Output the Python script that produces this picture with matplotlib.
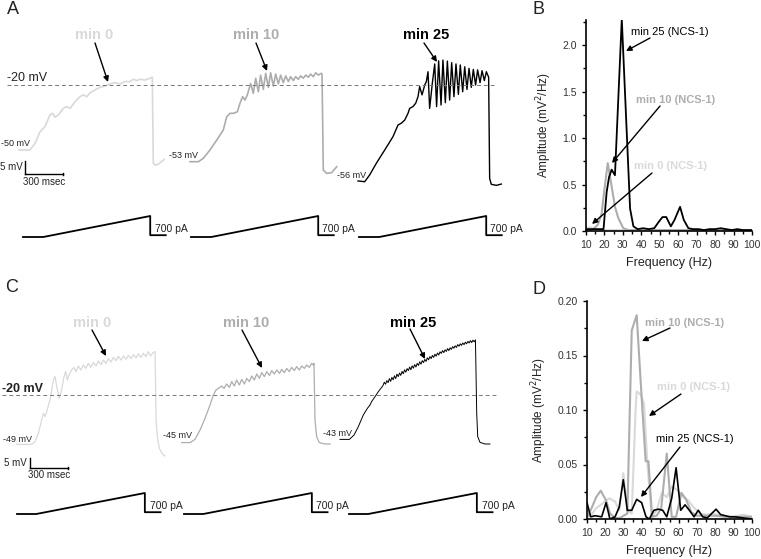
import matplotlib.pyplot as plt
import numpy as np
from matplotlib.ticker import MultipleLocator, FormatStrFormatter

plt.rcParams['font.family'] = ['Liberation Sans', 'DejaVu Sans']

W, H = 761, 559
LIGHT = '#d9d9d9'
MID = '#adadad'
DARK = '#000000'
MS_PER_PX = 7.9

# ---------------- voltage traces (ms from sweep start, mV) ----------------
# panel A
a_min0 = [(0, -45.0), (87, -45.0), (127, -42.4), (166, -38.0), (205, -36.0), (245, -31.5),
          (266, -30.9), (284, -32.4), (311, -31.5), (350, -29.0), (377, -28.3), (403, -29.0),
          (443, -26.4), (482, -24.5), (509, -23.8), (535, -24.5), (561, -23.0), (600, -21.9),
          (640, -20.9), (679, -20.4), (719, -19.6), (758, -19.1), (798, -19.6), (837, -18.7),
          (877, -18.7), (903, -17.8), (930, -18.3), (956, -17.8), (995, -18.1), (1035, -17.4),
          (1053, -17.0), (1061, -50.1), (1074, -50.8), (1100, -50.5), (1148, -48.6)]
a_min10 = [(0, -49.5), (66, -49.5), (105, -48.2), (158, -45.0), (211, -41.2), (263, -37.3),
           (290, -32.2), (316, -30.9), (342, -30.9), (374, -30.3), (395, -27.0), (416, -24.5),
           (434, -25.8), (453, -23.8), (479, -19.4), (500, -23.2), (519, -17.4), (540, -22.6),
           (558, -16.2), (579, -21.7), (598, -15.5), (619, -20.9), (637, -15.3), (658, -20.4),
           (677, -15.8), (698, -19.6), (716, -16.2), (737, -19.1), (756, -16.5), (777, -18.7),
           (795, -16.8), (816, -18.3), (835, -16.8), (856, -17.8), (874, -16.5), (895, -17.4),
           (914, -16.2), (935, -17.0), (953, -15.8), (974, -16.8), (993, -15.3), (1014, -16.2),
           (1035, -15.5), (1043, -15.8), (1053, -52.7), (1080, -54.0), (1119, -53.7), (1159, -51.4)]
a_min25 = [(0, -56.9), (53, -57.2), (92, -54.6), (145, -50.1), (211, -45.0), (276, -39.9),
           (316, -35.4), (342, -34.7), (369, -33.5), (395, -30.9), (408, -29.0), (434, -28.3),
           (456, -27.0), (474, -24.5), (487, -20.6), (506, -23.8), (527, -20.0), (540, -18.7),
           (553, -14.9), (566, -29.0), (587, -19.4), (606, -11.9), (621, -28.3), (637, -10.7),
           (656, -27.7), (671, -10.4), (690, -26.8), (706, -10.8), (724, -25.8), (740, -11.4),
           (758, -24.5), (774, -11.9), (793, -23.6), (808, -12.3), (827, -22.6), (843, -13.0),
           (861, -21.7), (877, -13.6), (895, -20.9), (911, -14.0), (929, -20.0), (945, -14.2),
           (964, -19.1), (980, -14.5), (998, -18.3), (1014, -14.9), (1032, -17.0), (1040, -55.9),
           (1053, -58.2), (1093, -58.6), (1132, -58.1)]

# panel C
c_min0 = [(0, -44.7), (118, -44.7), (145, -43.3), (171, -39.2), (197, -32.5), (211, -29.2),
          (224, -30.8), (237, -28.3), (263, -22.5), (290, -12.5), (303, -10.8), (316, -15.8),
          (337, -21.7), (355, -17.5), (374, -10.8), (387, -8.3), (400, -12.5), (413, -10.0),
          (434, -7.5), (453, -6.2), (469, -8.3), (487, -5.5), (506, -7.5), (527, -5.0),
          (545, -6.7), (566, -4.2), (585, -6.2), (606, -3.8), (627, -5.5), (645, -3.0),
          (666, -4.8), (685, -2.5), (706, -4.2), (724, -1.8), (745, -3.5), (764, -1.2),
          (785, -2.8), (803, -0.7), (824, -2.5), (843, -0.5), (864, -2.2), (882, -0.2),
          (903, -1.8), (922, 0.2), (943, -1.5), (961, 0.5), (982, -1.2), (1001, 0.8),
          (1022, -0.8), (1040, 1.7), (1058, -0.5), (1080, 1.3), (1093, 1.7), (1101, -32.5),
          (1111, -40.8), (1127, -46.7), (1151, -49.5), (1172, -50.5)]
c_min10 = [(0, -43.8), (66, -43.8), (105, -42.2), (145, -37.5), (184, -31.7), (224, -25.0),
           (250, -20.0), (271, -17.5), (290, -16.7), (316, -15.5), (334, -16.7), (355, -14.5),
           (377, -16.2), (395, -13.3), (416, -15.5), (434, -12.5), (456, -15.0), (474, -12.2),
           (495, -14.5), (514, -11.7), (535, -13.3), (553, -10.5), (574, -12.5), (593, -9.5),
           (614, -11.7), (632, -8.8), (653, -10.8), (672, -8.3), (693, -10.2), (711, -7.8),
           (732, -9.5), (751, -7.5), (772, -9.2), (790, -7.2), (811, -8.8), (829, -6.7),
           (850, -8.3), (869, -6.2), (890, -7.8), (908, -5.8), (929, -7.5), (948, -5.5),
           (969, -6.7), (987, -5.0), (1008, -6.2), (1027, -4.2), (1040, -5.0), (1045, -4.2),
           (1053, -32.5), (1066, -40.8), (1087, -43.8), (1132, -44.5), (1172, -44.5)]
c_min25 = [(0, -42.2), (74, -42.2), (111, -40.0), (145, -35.8), (184, -30.0), (216, -26.7),
           (237, -25.0), (250, -23.3), (277, -20.8), (303, -18.3), (329, -16.2),
           (340, -15.2), (350, -13.6), (360, -14.6), (370, -12.8), (380, -13.8), (390, -11.8),
           (400, -13.2), (410, -11.2), (420, -12.4), (430, -10.4), (440, -11.8), (450, -9.6),
           (460, -10.8), (470, -9.0), (480, -10.2), (490, -8.2), (500, -9.4), (510, -7.4),
           (520, -8.6), (530, -6.8), (540, -7.8), (550, -6.0), (560, -7.4), (570, -5.4),
           (580, -6.6), (590, -4.8), (600, -6.0), (610, -4.2), (620, -5.2), (630, -3.4),
           (640, -4.6), (650, -2.8), (660, -3.8), (670, -2.2), (680, -3.2), (690, -1.4),
           (700, -2.4), (710, -0.8), (720, -1.8), (730, -0.2), (740, -1.2), (750, 0.4),
           (760, -0.6), (770, 1.0), (780, 0.0), (790, 1.6), (800, 0.8), (810, 2.2),
           (820, 1.2), (830, 2.6), (840, 1.8), (850, 3.2), (860, 2.2), (870, 3.6),
           (880, 2.8), (890, 4.2), (900, 3.4), (910, 4.6), (920, 3.8), (930, 5.2),
           (940, 4.4), (950, 5.6), (960, 4.8), (970, 6.0), (980, 5.2), (990, 6.4),
           (1000, 5.6), (1010, 6.8), (1020, 6.0), (1030, 7.2), (1040, 6.2), (1050, 7.4),
           (1060, 6.6), (1070, 7.6), (1080, -29.2), (1088, -40.8), (1106, -43.7),
           (1146, -44.5), (1185, -44.5)]

# injected current ramps (ms, pA)
ramp_t_A = [0, 160, 1005, 1005, 1128]
ramp_t_C = [0, 152, 1010, 1010, 1134]
ramp_i = [0, 0, 700, 60, 60]

# ---------------- power spectra (Hz, mV^2/Hz) ----------------
b_f25 = [10, 12, 14, 16, 18, 19.5, 21.2, 22.5, 23.9, 25.7, 29.4, 33.9, 35.7, 38, 41, 44, 47,
         49.5, 51.5, 53.5, 56, 58, 61, 63, 65.5, 68, 71, 74, 77, 80, 83, 86, 89, 92, 95, 98, 100]
b_a25 = [0.02, 0.02, 0.02, 0.02, 0.02, 0.02, 0.42, 0.58, 0.66, 0.60, 2.28, 0.24, 0.05, 0.02,
         0.03, 0.02, 0.03, 0.10, 0.15, 0.15, 0.05, 0.12, 0.26, 0.12, 0.03, 0.02, 0.02, 0.01,
         0.02, 0.02, 0.03, 0.02, 0.01, 0.02, 0.01, 0.01, 0.01]
b_f10 = [10, 12, 14, 16.5, 18.5, 20, 21.8, 23.9, 25.7, 27.5, 30.2, 33, 36, 40, 50, 60, 70, 80, 90, 100]
b_a10 = [0.0, 0.01, 0.02, 0.07, 0.19, 0.45, 0.73, 0.48, 0.26, 0.14, 0.03, 0.01, 0.01, 0.01,
         0.01, 0.01, 0.01, 0.01, 0.01, 0.01]
b_f0 = [10, 12, 14, 16, 18, 20, 25, 30, 40, 50, 60, 70, 80, 90, 100]
b_a0 = [0.03, 0.04, 0.03, 0.02, 0.01, 0.01, 0.01, 0.01, 0.01, 0.01, 0.01, 0.01, 0.01, 0.01, 0.01]

d_f25 = [10, 12, 14.4, 18, 20.4, 22.5, 25.3, 27.6, 29.8, 32, 34.4, 37.1, 39.8, 42.2, 44, 46.5,
         48.9, 51.3, 53.5, 56.2, 58.6, 61.1, 63.5, 65.8, 68.4, 70.7, 73.1, 75.6, 80.4, 82.9,
         88, 90.7, 95, 100]
d_a25 = [0.015, 0.002, 0.003, 0.002, 0.015, 0.0, 0.002, 0.011, 0.036, 0.008, 0.008, 0.018,
         0.015, 0.002, 0.0, 0.008, 0.009, 0.008, 0.002, 0.019, 0.047, 0.008, 0.013, 0.008,
         0.002, 0.008, 0.002, 0.001, 0.009, 0.004, 0.002, 0.002, 0.001, 0.0]
d_f10 = [10, 12.5, 15, 17.5, 20.4, 22.6, 25.3, 28, 30, 32, 34.4, 37.1, 39.5, 42, 43.5, 45.5,
         48, 50.5, 53.5, 56.2, 58.6, 61.5, 64, 67, 70, 75, 80, 85, 90, 95, 100]
d_a10 = [0.001, 0.010, 0.020, 0.026, 0.017, 0.005, 0.001, 0.001, 0.003, 0.005, 0.173, 0.187,
         0.120, 0.053, 0.053, 0.002, 0.003, 0.010, 0.060, 0.002, 0.002, 0.024, 0.018, 0.006,
         0.003, 0.003, 0.003, 0.002, 0.002, 0.002, 0.002]
d_f0 = [10, 12.5, 15, 17.5, 20.4, 22.2, 25.3, 27.6, 29.8, 32, 34.4, 36.5, 37.1, 39.3, 41.1,
        42.9, 45.3, 48, 50.8, 53.5, 56.2, 58.9, 62.6, 65.3, 68, 71.7, 75.3, 79, 82.6, 86.3,
        89.9, 95.3, 100]
d_a0 = [0.002, 0.004, 0.010, 0.013, 0.017, 0.019, 0.016, 0.008, 0.042, 0.008, 0.005, 0.100,
        0.117, 0.114, 0.106, 0.052, 0.002, 0.008, 0.024, 0.020, 0.030, 0.027, 0.020, 0.017,
        0.011, 0.005, 0.004, 0.005, 0.003, 0.002, 0.002, 0.004, 0.002]

fig = plt.figure(figsize=(W / 100, H / 100), dpi=100)


def px_axes(x0, y0, x1, y1):
    return fig.add_axes([x0 / W, 1 - y1 / H, (x1 - x0) / W, (y1 - y0) / H])


def draw_row(box, y_ref, mv_px, traces, offsets_px, styles, ramp_box, base_px, ramp_t, ramp_offs):
    ax = px_axes(*box)
    x0, y0, x1, y1 = box
    ax.set_xlim(0, (x1 - x0) * MS_PER_PX)
    ax.set_ylim(-20 - (y1 - y_ref) / mv_px, -20 + (y_ref - y0) / mv_px)
    ax.axis('off')
    for tr, off, (c, lw) in zip(traces, offsets_px, styles):
        t, v = np.array(tr).T
        ax.plot(t + off * MS_PER_PX, v, color=c, lw=lw, solid_joinstyle='round')
    rx = px_axes(*ramp_box)
    rx.set_xlim(0, (x1 - x0) * MS_PER_PX)
    rx.set_ylim(-(ramp_box[3] - base_px) / 0.03, (base_px - ramp_box[1]) / 0.03)
    rx.axis('off')
    for off in ramp_offs:
        rx.plot(np.array(ramp_t) + off * MS_PER_PX, ramp_i, color='k', lw=1.3)
    return ax


# ---------- row A ----------
axA = draw_row((0, 0, 520, 200), 85, 2.6, [a_min0, a_min10, a_min25], [19, 190, 358],
               [(LIGHT, 1.2), (MID, 1.2), (DARK, 1.0)],
               (0, 200, 520, 250), 237, ramp_t_A, [23, 191, 359])
axA.axhline(-20, xmin=7 / 520, xmax=497 / 520, color='#777777', lw=0.7, ls=(0, (4, 3)))
# scale bars 5 mV / 300 ms
axA.plot([25 * MS_PER_PX] * 2, [-49.2, -54.2], color='k', lw=1)
axA.plot([25 * MS_PER_PX, 25 * MS_PER_PX + 300], [-54.2, -54.2], color='k', lw=1)
axA.plot([25 * MS_PER_PX + 300] * 2, [-53.7, -54.7], color='k', lw=1)

# ---------- row C ----------
axC = draw_row((0, 280, 520, 480), 395, 2.0, [c_min0, c_min10, c_min25], [16.7, 181.7, 340],
               [(LIGHT, 0.9), (MID, 0.9), (DARK, 0.7)],
               (0, 480, 520, 535), 514, ramp_t_C, [17, 184, 349])
axC.axhline(-20, xmin=2 / 520, xmax=498 / 520, color='#777777', lw=0.7, ls=(0, (4, 3)))
axC.plot([30 * MS_PER_PX] * 2, [-51.5, -56.5], color='k', lw=1)
axC.plot([30 * MS_PER_PX, 30 * MS_PER_PX + 300], [-56.5, -56.5], color='k', lw=1)
axC.plot([30 * MS_PER_PX + 300] * 2, [-56.0, -57.0], color='k', lw=1)


# ---------- spectra ----------
def spectrum_axes(box, ymax, major, minor, fmt, series):
    ax = px_axes(*box)
    for f, a, c, lw in series:
        ax.plot(f, a, color=c, lw=lw)
    ax.set_xlim(10, 100)
    ax.set_ylim(0, ymax)
    ax.xaxis.set_major_locator(MultipleLocator(10))
    ax.xaxis.set_minor_locator(MultipleLocator(5))
    ax.yaxis.set_major_locator(MultipleLocator(major))
    ax.yaxis.set_minor_locator(MultipleLocator(minor))
    ax.yaxis.set_major_formatter(FormatStrFormatter(fmt))
    for s in ('top', 'right'):
        ax.spines[s].set_visible(False)
    for s in ('left', 'bottom'):
        ax.spines[s].set_linewidth(1.2)
    ax.tick_params(which='major', length=3, width=1, labelsize=7.5, labelcolor='#333333', pad=3.5)
    ax.tick_params(which='minor', length=2, width=1)
    ax.set_xlabel('Frequency (Hz)', fontsize=9, color='#222222', labelpad=5)
    ax.set_ylabel('Amplitude (mV$^2$/Hz)', fontsize=8.5, color='#222222', labelpad=6)
    ax.patch.set_alpha(0)
    return ax


axB = spectrum_axes((586, 20, 752, 231), 2.27, 0.5, 0.25, '%.1f',
                    [(b_f0, b_a0, LIGHT, 1.5), (b_f10, b_a10, MID, 1.5), (b_f25, b_a25, DARK, 1.3)])
axD = spectrum_axes((587, 301, 752, 519), 0.2, 0.05, 0.025, '%.2f',
                    [(d_f0, d_a0, LIGHT, 1.5), (d_f10, d_a10, MID, 1.5), (d_f25, d_a25, DARK, 1.2)])

# ---------- overlay for labels and arrows (figure pixel coords) ----------
ov = fig.add_axes([0, 0, 1, 1], zorder=10)
ov.set_xlim(0, W)
ov.set_ylim(H, 0)
ov.axis('off')


def arrow(x0, y0, x1, y1):
    ov.annotate('', xy=(x1, y1), xytext=(x0, y0),
                arrowprops=dict(arrowstyle='-|>', color='k', lw=1.0, mutation_scale=8,
                                shrinkA=0, shrinkB=0))


def txt(x, y, s, **kw):
    ov.text(x, y, s, va='center', **kw)


# panel letters
for x, y, s in [(7, 9, 'A'), (5, 288, 'C'), (532, 9, 'B'), (532, 290, 'D')]:
    txt(x, y, s, fontsize=13, color='#222222', ha='left')

# trace titles
for x, y, s, c, a in [(94, 35, 'min 0', LIGHT, (95, 43, 108, 82)),
                      (256, 35, 'min 10', MID, (256, 43, 267, 71)),
                      (426, 35, 'min 25', DARK, (424, 43, 437, 62)),
                      (92, 323, 'min 0', LIGHT, (92, 330, 106, 356)),
                      (246, 323, 'min 10', MID, (242, 330, 262, 368)),
                      (413, 323, 'min 25', DARK, (410, 329, 425, 359))]:
    txt(x, y, s, fontsize=10.5, fontweight='bold', color=c, ha='center')
    arrow(*a)

txt(7, 78, '-20 mV', fontsize=9, color='#222222', ha='left')
txt(2, 389, '-20 mV', fontsize=9, fontweight='bold', color='#222222', ha='left')

for x, y, s in [(30, 143, '-50 mV'), (198, 156, '-53 mV'), (366, 176, '-56 mV'),
                (32, 439, '-49 mV'), (192, 436, '-45 mV'), (352, 433, '-43 mV')]:
    txt(x, y, s, fontsize=6.5, color='#222222', ha='right')

txt(23, 167, '5 mV', fontsize=7, color='#222222', ha='right')
txt(44, 182, '300 msec', fontsize=7, color='#222222', ha='center')
txt(27, 463, '5 mV', fontsize=7, color='#222222', ha='right')
txt(49, 475, '300 msec', fontsize=7, color='#222222', ha='center')

for x, y in [(155, 229), (322, 229), (490, 229), (150, 506), (316, 506), (482, 506)]:
    txt(x, y, '700 pA', fontsize=7.5, color='#222222', ha='left')

# spectrum annotations
for x, y, s, c, w, a in [(631, 32, 'min 25 (NCS-1)', DARK, 'normal', (650, 38, 626, 51)),
                         (636, 100, 'min 10 (NCS-1)', MID, 'bold', (660, 106, 612, 163)),
                         (634, 166, 'min 0 (NCS-1)', LIGHT, 'bold', (652, 173, 592, 224)),
                         (645, 323, 'min 10 (NCS-1)', MID, 'bold', (670, 328, 642, 341)),
                         (657, 387, 'min 0 (NCS-1)', LIGHT, 'bold', (681, 394, 649, 416)),
                         (656, 439, 'min 25 (NCS-1)', DARK, 'normal', (680, 447, 641, 497))]:
    txt(x, y, s, fontsize=8, fontweight=w, color=c, ha='left')
    arrow(*a)

fig.savefig('out.png', dpi=100)
